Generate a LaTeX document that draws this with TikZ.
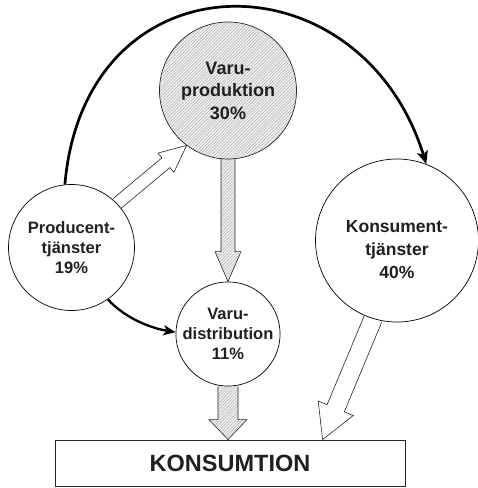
\documentclass[tikz,border=0pt]{standalone}
\usepackage{fontspec}
\setmainfont{Liberation Sans}
\usetikzlibrary{calc,patterns.meta,arrows.meta,backgrounds}
\definecolor{ink}{HTML}{231F20}
\tikzset{
  hatch/.style={preaction={fill=gray!12}, pattern={Lines[angle=45,distance=2.2pt,line width=0.45pt]}, pattern color=gray!65},
  whitefill/.style={fill=white},
  blockline/.style={draw=black!85, line width=0.6pt, line join=miter},
  bubble/.style={circle, draw=black, line width=0.7pt, inner sep=0pt, text=ink, align=center, font=\bfseries\fontsize{16.5}{20}\selectfont},
  flow/.style={draw=black, line width=2.7pt, -{Stealth[length=13pt,width=11pt,inset=3pt]}},
  flowsmall/.style={draw=black, line width=2.3pt, -{Stealth[length=12pt,width=10pt,inset=3pt]}},
}
\newcommand\blockarrow[6]{%
  \coordinate (ba-m) at ($(#3)!#6!(#2)$);
  \coordinate (ba-1) at ($(#2)!#4!90:(#3)$);
  \coordinate (ba-2) at ($(ba-m)!#4!-90:(#2)$);
  \coordinate (ba-3) at ($(ba-m)!#5!-90:(#2)$);
  \coordinate (ba-4) at ($(ba-m)!#5!90:(#2)$);
  \coordinate (ba-5) at ($(ba-m)!#4!90:(#2)$);
  \coordinate (ba-6) at ($(#2)!#4!-90:(#3)$);
  \fill[#1] (ba-1) -- (ba-2) -- (ba-3) -- (#3) -- (ba-4) -- (ba-5) -- (ba-6) -- cycle;
  \draw[blockline] (ba-1) -- (ba-2) -- (ba-3) -- (#3) -- (ba-4) -- (ba-5) -- (ba-6);
}
\begin{document}
\begin{tikzpicture}[x=1pt,y=-1pt]
\useasboundingbox (0,0) rectangle (478,488);
% nodes
\node[bubble, minimum size=137pt, hatch, draw=black!85, font=\bfseries\fontsize{18}{22.5}\selectfont] (vp) at (228,90.5) {Varu-\\produktion\\30\%};
\node[bubble, minimum size=126pt, fill=white] (pc) at (71.5,247.5) {Producent-\\tjänster\\19\%};
\node[bubble, minimum size=98pt, fill=white] (vd) at (228,334) {Varu-\\distribution\\11\%};
\node[bubble, minimum size=163pt, fill=white] (ks) at (397,240.5) {};
\node[text=ink, align=center, inner sep=0pt, font=\bfseries\fontsize{17.5}{23}\selectfont] (kstext) at (397,250) {Konsument-\\tjänster\\40\%};
\node[draw=black!85, line width=0.8pt, fill=white, minimum width=350pt, minimum height=46pt, inner sep=0pt, text=ink, font=\bfseries\fontsize{23.5}{28}\selectfont] (box) at (230,463) {KONSUMTION};
\coordinate (tipB) at (vd.south |- box.north);
\coordinate (tipD) at ($(box.north west)!0.764!(box.north east)$);
% block arrows behind the nodes
\begin{pgfonlayer}{background}
\blockarrow{hatch}{vp.south}{vd.north}{7pt}{13pt}{30pt}
\blockarrow{hatch}{vd.south}{tipB}{10pt}{19pt}{20pt}
\blockarrow{whitefill}{pc.44}{vp.233}{6.3pt}{12.5pt}{27pt}
\blockarrow{whitefill}{ks.253}{tipD}{9.3pt}{19pt}{34pt}
\end{pgfonlayer}
% curved flows
\draw[flow] (pc.96) .. controls (85,-48) and (360,-48) .. (ks.69);
\draw[flowsmall] (pc.-55) .. controls (125,318) and (150,328) .. (vd.178);
\end{tikzpicture}
\end{document}
